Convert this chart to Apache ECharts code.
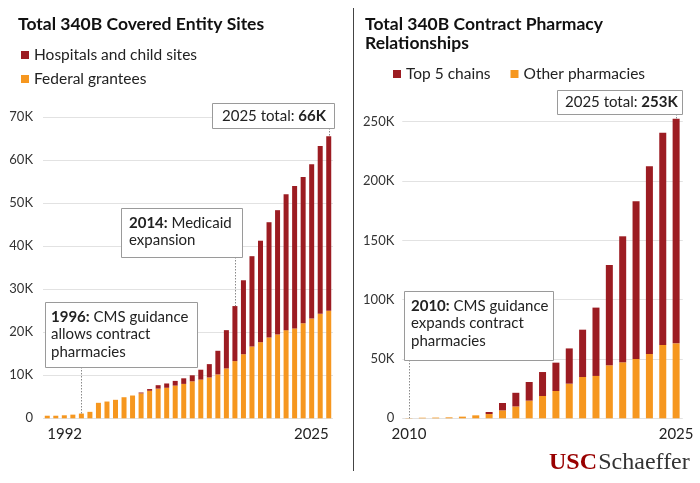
<!DOCTYPE html>
<html><head><meta charset="utf-8">
<script src="https://cdn.jsdelivr.net/npm/echarts@6/dist/echarts.min.js"></script>
<style>html,body{margin:0;padding:0;background:#fff}#c{width:700px;height:483px}</style>
</head><body><div id="c"></div>
<script>
// ---- Left chart: covered entity sites, 1992-2025 ----
const leftYears = ['1992','1993','1994','1995','1996','1997','1998','1999','2000','2001','2002','2003','2004','2005','2006','2007','2008','2009','2010','2011','2012','2013','2014','2015','2016','2017','2018','2019','2020','2021','2022','2023','2024','2025'];
const federalGrantees = [600,600,700,850,1100,1500,3600,3900,4300,4900,5300,5800,6400,6900,7100,7600,8000,8600,9000,9500,10200,11600,13300,14900,16700,17700,18800,19500,20500,20900,22100,23200,24300,25000];
const hospitalsChild = [0,0,0,0,0,0,0,0,0,0,0,200,400,800,1000,1100,1300,1400,2300,3100,5500,8900,12800,17200,21000,23600,26800,28900,31600,33100,34000,35900,39000,40600];
const leftYTicks = [0,10000,20000,30000,40000,50000,60000,70000];

// ---- Right chart: contract pharmacy relationships, 2010-2025 (21 snapshots) ----
const rightPeriods = ['2010','s02','s03','s04','s05','s06','s07','s08','s09','s10','s11','s12','s13','s14','s15','s16','s17','s18','s19','s20','2025'];
const rightTickLabels = {first:'2010', last:'2025'};
const otherPharmacies = [200,500,600,800,1400,2500,3600,6700,10000,14900,18800,23000,29200,34800,35700,44700,47200,50000,54200,61800,63200];
const top5Chains = [0,0,0,0,0,0,1700,6200,11500,15700,20200,23900,29700,39900,57600,84500,106200,132900,158200,178900,189300];
const rightYTicks = [0,50000,100000,150000,200000,250000];

const RED = '#9c1c22', ORANGE = '#f6971f';
const FONT = 'Lato';
const kfmt = v => v === 0 ? '0' : (v/1000) + 'K';

const chart = echarts.init(document.getElementById('c'), null, {renderer:'canvas'});

const option = {
  animation: false,
  textStyle: {fontFamily: FONT},
  title: [
    {text:'Total 340B Covered Entity Sites', left:13, top:10, textStyle:{fontFamily:FONT, fontSize:17.5, fontWeight:'bold', color:'#111'}},
    {text:'Total 340B Contract Pharmacy\nRelationships', left:360, top:10, textStyle:{fontFamily:FONT, fontSize:17.5, fontWeight:'bold', color:'#111', lineHeight:19}}
  ],
  legend: [
    {data:['Hospitals and child sites','Federal grantees'], orient:'vertical', left:16, top:42, icon:'rect', itemWidth:8, itemHeight:8, itemGap:8,
     textStyle:{fontFamily:FONT, fontSize:15.5, color:'#222', lineHeight:15}, selectedMode:false},
    {data:['Top 5 chains','Other pharmacies'], orient:'horizontal', left:388, top:61, icon:'rect', itemWidth:8, itemHeight:8, itemGap:20,
     textStyle:{fontFamily:FONT, fontSize:15.5, color:'#222', lineHeight:15}, selectedMode:false}
  ],
  grid: [
    {left:43, top:117.3, width:290, height:301, outerBoundsMode:'none'},
    {left:402.3, top:121.7, width:280.5, height:296.6, outerBoundsMode:'none'}
  ],
  xAxis: [
    {type:'category', gridIndex:0, data:leftYears, axisLine:{show:false}, axisTick:{show:false},
     axisLabel:{interval:(i)=> i===0 || i===leftYears.length-1, margin:8, fontSize:15, color:'#222', fontFamily:FONT,
       alignMinLabel:'left', alignMaxLabel:'right'}},
    {type:'category', gridIndex:1, data:rightPeriods, axisLine:{show:false}, axisTick:{show:false},
     axisLabel:{interval:(i)=> i===0 || i===rightPeriods.length-1, margin:8, fontSize:15, color:'#222', fontFamily:FONT,
       formatter:(v,i)=> i===0 ? rightTickLabels.first : rightTickLabels.last}}
  ],
  yAxis: [
    {type:'value', gridIndex:0, min:leftYTicks[0], max:leftYTicks[leftYTicks.length-1], interval:leftYTicks[1]-leftYTicks[0],
     axisLabel:{formatter:kfmt, fontSize:13, color:'#333', margin:10, fontFamily:FONT},
     splitLine:{lineStyle:{color:'#e2e2e2', width:1}}, axisLine:{show:false}, axisTick:{show:false}},
    {type:'value', gridIndex:1, min:rightYTicks[0], max:rightYTicks[rightYTicks.length-1], interval:rightYTicks[1]-rightYTicks[0],
     axisLabel:{formatter:kfmt, fontSize:13, color:'#333', margin:8, fontFamily:FONT},
     splitLine:{lineStyle:{color:'#e2e2e2', width:1}}, axisLine:{show:false}, axisTick:{show:false}}
  ],
  series: [
    {name:'Federal grantees', type:'bar', xAxisIndex:0, yAxisIndex:0, stack:'L', data:federalGrantees, barWidth:5, itemStyle:{color:ORANGE}, clip:false},
    {name:'Hospitals and child sites', type:'bar', xAxisIndex:0, yAxisIndex:0, stack:'L', data:hospitalsChild, barWidth:5, itemStyle:{color:RED}, clip:false},
    {name:'Other pharmacies', type:'bar', xAxisIndex:1, yAxisIndex:1, stack:'R', data:otherPharmacies, barWidth:7, itemStyle:{color:ORANGE}, clip:false},
    {name:'Top 5 chains', type:'bar', xAxisIndex:1, yAxisIndex:1, stack:'R', data:top5Chains, barWidth:7, itemStyle:{color:RED}, clip:false}
  ]
};
chart.setOption(option);

// ---- Annotations ----
const leftTotal = i => federalGrantees[i] + hospitalsChild[i];
const rightTotal = i => otherPharmacies[i] + top5Chains[i];
const pL = (cat, v) => chart.convertToPixel({xAxisIndex:0, yAxisIndex:0}, [cat, v]);
const pR = (cat, v) => chart.convertToPixel({xAxisIndex:1, yAxisIndex:1}, [cat, v]);

const rich = {
  n:{fontFamily:FONT, fontSize:15, color:'#222', lineHeight:17.5},
  b:{fontFamily:FONT, fontSize:15, color:'#111', fontWeight:'bold', lineHeight:17.5}
};
function box(x, y, w, h, padL, padT, text) {
  return [
    {type:'rect', shape:{x:x+0.5, y:y+0.5, width:w, height:h}, style:{fill:'#fff', stroke:'#9a9a9a', lineWidth:1}, z:10},
    {type:'text', x:x+padL, y:y+padT, style:{text:text, rich:rich, fontFamily:FONT, fontSize:15, fill:'#222', lineHeight:17.5, verticalAlign:'top'}, z:11}
  ];
}
function conn(x, y1, y2) {
  return {type:'line', shape:{x1:Math.round(x)+0.5, y1:y1, x2:Math.round(x)+0.5, y2:y2}, style:{stroke:'#8a8a8a', lineWidth:1, lineDash:[1.5,1.5]}, z:9};
}
const i1996 = leftYears.indexOf('1996'), i2014 = leftYears.indexOf('2014'), iL = leftYears.length-1, iR = rightPeriods.length-1;
const a1996 = pL(leftYears[i1996], leftTotal(i1996));
const a2014 = pL(leftYears[i2014], leftTotal(i2014));
const a2025L = pL(leftYears[iL], leftTotal(iL));
const a2010 = pR(rightPeriods[0], 0);
const a2025R = pR(rightPeriods[iR], rightTotal(iR));

const graphic = [].concat(
  [conn(a1996[0], 367, a1996[1]), conn(a2014[0], 257, a2014[1]), conn(a2025L[0], 128, a2025L[1]),
   conn(a2010[0], 360, a2010[1]), conn(a2025R[0], 114, a2025R[1])],
  box(212, 103, 122, 25, 10, 4, '{n|2025 total: }{b|66K}'),
  box(121, 208, 121, 49, 8, 6, '{b|2014:}{n| Medicaid}\n{n|expansion}'),
  box(45, 302, 152, 65, 6, 6, '{b|1996:}{n| CMS guidance}\n{n|allows contract}\n{n|pharmacies}'),
  box(557, 90, 125, 24, 8, 3, '{n|2025 total: }{b|253K}'),
  box(404, 291, 149, 69, 7, 6, '{b|2010:}{n| CMS guidance}\n{n|expands contract}\n{n|pharmacies}'),
  [
    {type:'line', shape:{x1:353.5, y1:8, x2:353.5, y2:471}, style:{stroke:'#444', lineWidth:1}},
    {type:'text', x:549, y:451, style:{text:'{u|USC}{g| }{s|Schaeffer}', verticalAlign:'top',
      rich:{u:{fontFamily:'Liberation Serif', fontWeight:'bold', fontSize:24, fill:'#990000', color:'#990000'},
            g:{fontFamily:'Liberation Serif', fontSize:5},
            s:{fontFamily:'Liberation Serif', fontSize:24, fill:'#333', color:'#333'}}}}
  ]
);
chart.setOption({graphic: graphic});
</script>
</body></html>
